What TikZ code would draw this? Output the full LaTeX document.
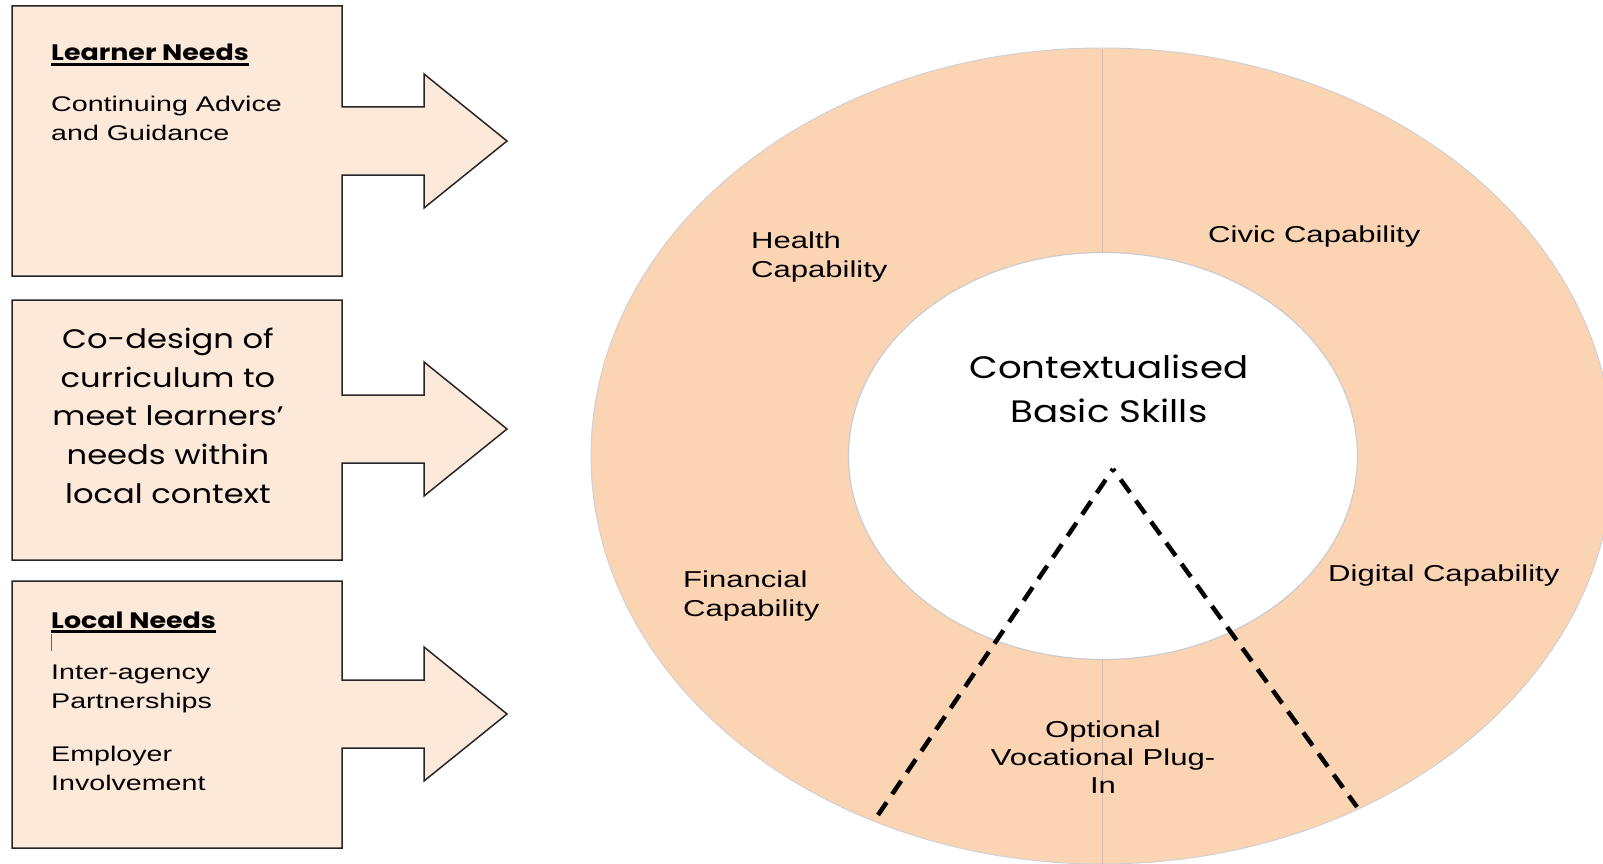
\documentclass[tikz,border=0pt]{standalone}
\usepackage{fontspec}
\setmainfont[FakeStretch=1.35]{Liberation Sans}
\newfontfamily\gothic[FakeStretch=1.2]{Poppins}
\usetikzlibrary{positioning, calc}
\definecolor{boxfill}{HTML}{FDE9D9}
\definecolor{ringfill}{HTML}{FBD4B4}
\definecolor{seam}{HTML}{D6BDA8}

\begin{document}
\begin{tikzpicture}[
    x=1pt, y=-1pt,
    needbox/.style={draw=black!85, line width=1.5pt, fill=boxfill, line join=miter},
    txt/.style={inner sep=0pt, anchor=base west, align=left, font=\fontsize{23}{28.5}\selectfont},
    boxtxt/.style={txt, font=\fontsize{21.2}{29}\selectfont},
    head/.style={inner sep=0pt, anchor=base west, font=\gothic\bfseries\fontsize{22.4}{26}\selectfont},
    big/.style={inner sep=0pt, anchor=base, align=center, font=\gothic\fontsize{26.8}{38.6}\selectfont},
    cut/.style={line width=4.5pt, dash pattern=on 16pt off 10pt, dash phase=13pt}
]
    \useasboundingbox (0,0) rectangle (1603,864);

    % Boxes with arrows
    \foreach \t/\b/\m in {6/276/141, 300/560/429, 581/848/714}
        \draw[needbox] (12,\t) -- (342,\t) -- (342,\m-34) -- (424,\m-34) -- (424,\m-67)
            -- (507,\m) -- (424,\m+67) -- (424,\m+34) -- (342,\m+34) -- (342,\b) -- (12,\b) -- cycle;

    % (base of a multi-line node = last line)
    \node[head] (learner) at (51,61) {Learner Needs};
    \draw[line width=2.2pt] ($(learner.base west)+(0,3.5)$) -- ($(learner.base east)+(0,3.5)$);
    \node[boxtxt] (advice) at (51,141) {Continuing Advice\\and Guidance};

    \node[big] (codesign) at (168,503) {Co-design of\\curriculum to\\meet learners’\\needs within\\local context};

    \node[head] (local) at (51,628) {Local Needs};
    \draw[line width=2.2pt] ($(local.base west)+(0,3.5)$) -- ($(local.base east)+(0,3.5)$);
    \draw[black!60, line width=0.8pt] (51,634) -- (51,651);
    \node[boxtxt] (agency) at (51,708) {Inter-agency\\Partnerships};
    \node[boxtxt] (employer) at (51,790) {Employer\\Involvement};

    % Ring
    \fill[ringfill] (1102,456) ellipse [x radius=511, y radius=408];
    \draw[black!18, line width=1pt] (1102,456) ellipse [x radius=511, y radius=408];
    \fill[white] (1103,456) ellipse [x radius=254.5, y radius=203.5];
    \draw[black!20, line width=1.2pt] (1103,456) ellipse [x radius=254.5, y radius=203.5];
    \draw[seam, line width=1pt] (1102,49) -- (1102,252);
    \draw[seam, line width=1pt] (1102,660) -- (1102,864);

    \node[txt] (health) at (751,277) {Health\\Capability};
    \node[txt] (civic) at (1208,242) {Civic Capability};
    \node[txt] (financial) at (683,616) {Financial\\Capability};
    \node[txt] (digital) at (1328,581) {Digital Capability};
    \node[txt, anchor=base, align=center, font=\fontsize{23}{28}\selectfont] (optional) at (1103,793) {Optional\\Vocational Plug-\\In};
    \node[big, font=\gothic\fontsize{31}{44}\selectfont] (core) at (1109,422) {Contextualised\\Basic Skills};

    % Vocational wedge
    \coordinate (apex) at (1113,469);
    \coordinate (wedgel) at (878,815);
    \coordinate (wedger) at (1357,807);
    \draw[cut] (apex) -- (wedgel);
    \draw[cut] (apex) -- (wedger);
\end{tikzpicture}
\end{document}
